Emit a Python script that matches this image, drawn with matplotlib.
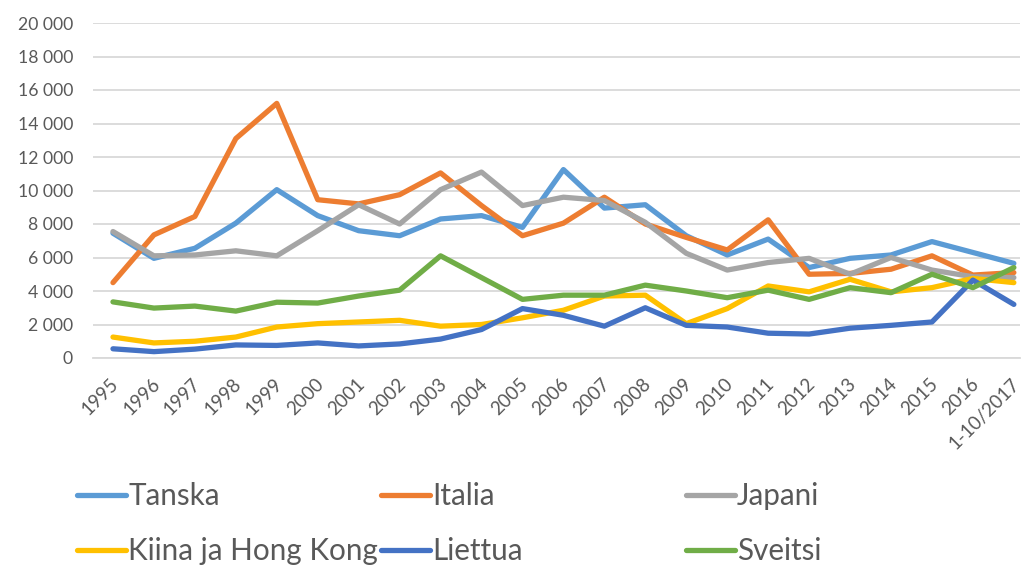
import matplotlib
matplotlib.use("Agg")
import matplotlib.pyplot as plt
import matplotlib.transforms as mtransforms
from matplotlib.ticker import FuncFormatter, MultipleLocator

categories = ['1995', '1996', '1997', '1998', '1999', '2000', '2001', '2002', '2003', '2004',
              '2005', '2006', '2007', '2008', '2009', '2010', '2011', '2012', '2013', '2014',
              '2015', '2016', '1-10/2017']

tanska = [7450, 5950, 6550, 8050, 10050, 8500, 7600, 7300, 8300, 8500, 7800, 11250,
          8950, 9150, 7300, 6150, 7100, 5400, 5950, 6150, 6950, 6300, 5650]
italia = [4500, 7350, 8450, 13100, 15200, 9450, 9200, 9750, 11050, 9100, 7300, 8050,
          9600, 8000, 7200, 6450, 8250, 5000, 5050, 5300, 6100, 4950, 5100]
japani = [7550, 6100, 6150, 6400, 6100, 7600, 9150, 8000, 10050, 11100, 9100, 9600,
          9400, 8100, 6250, 5250, 5700, 5950, 5000, 6000, 5250, 4850, 4800]
kiina = [1250, 900, 1000, 1250, 1850, 2050, 2150, 2250, 1900, 2000, 2400, 2850,
         3700, 3750, 2050, 2950, 4300, 3950, 4700, 3950, 4200, 4750, 4500]
liettua = [550, 380, 530, 780, 750, 900, 720, 840, 1130, 1700, 2950, 2550,
           1900, 3000, 1950, 1850, 1480, 1430, 1780, 1950, 2150, 4650, 3200]
sveitsi = [3350, 2980, 3100, 2800, 3330, 3280, 3700, 4050, 6100, 4800, 3500, 3750,
           3750, 4350, 4000, 3600, 4050, 3500, 4200, 3900, 5000, 4200, 5400]

series = [
    ('Tanska', tanska, '#5B9BD5'),
    ('Italia', italia, '#ED7D31'),
    ('Japani', japani, '#A5A5A5'),
    ('Kiina ja Hong Kong', kiina, '#FFC000'),
    ('Liettua', liettua, '#4472C4'),
    ('Sveitsi', sveitsi, '#70AD47'),
]

FONT = 'Lato'
TXT = '#595959'
W, H = 1022, 565
fig = plt.figure(figsize=(W / 100, H / 100), dpi=100)
left, right, top, bottom = 92.5, 1020, 23, 358
ax = fig.add_axes([left / W, 1 - bottom / H, (right - left) / W, (bottom - top) / H])

x = list(range(len(categories)))
lines = []
for name, vals, col in series:
    ln, = ax.plot(x, vals, color=col, lw=3.8, label=name,
                  solid_capstyle='round', solid_joinstyle='round')
    lines.append(ln)

ax.set_xlim(-0.5, 22.15)
ax.set_ylim(0, 20000)
ax.yaxis.set_major_locator(MultipleLocator(2000))
ax.yaxis.set_major_formatter(FuncFormatter(lambda v, p: f"{v:,.0f}".replace(',', ' ')))
ax.grid(axis='y', color='#D9D9D9', lw=1.3)
ax.set_axisbelow(True)
for s in ['top', 'right', 'left']:
    ax.spines[s].set_visible(False)
ax.spines['bottom'].set_color('#D9D9D9')
ax.spines['bottom'].set_linewidth(1.3)

ax.set_xticks(x)
ax.set_xticklabels(categories, rotation=45, ha='right', va='center',
                   rotation_mode='anchor', fontsize=13.5, color=TXT, family=FONT)
ax.tick_params(axis='x', length=0, pad=17)
ax.tick_params(axis='y', length=0, pad=14, labelsize=12.7, labelcolor=TXT)
for t in ax.get_yticklabels():
    t.set_family(FONT)
offset = mtransforms.ScaledTranslation(3 / 100, 0, fig.dpi_scale_trans)
for t in ax.get_xticklabels():
    t.set_transform(t.get_transform() + offset)

col_x = [77, 381, 686]
for ci in range(3):
    hs = [lines[ci], lines[ci + 3]]
    leg = fig.legend(hs, [h.get_label() for h in hs], loc='upper left',
                     bbox_to_anchor=(col_x[ci] / W, 1 - 482 / H),
                     frameon=False, handlelength=1.65, handletextpad=0.08,
                     labelspacing=0.92, borderaxespad=0, borderpad=0,
                     prop={'family': FONT, 'size': 21.3})
    for t in leg.get_texts():
        t.set_color(TXT)

fig.savefig('out.png', dpi=100)
